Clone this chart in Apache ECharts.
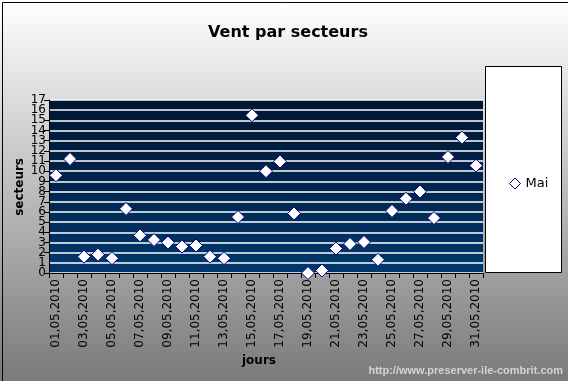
<!DOCTYPE html>
<html>
<head>
<meta charset="utf-8">
<script src="https://cdn.jsdelivr.net/npm/echarts@6/dist/echarts.min.js"></script>
<style>
html,body{margin:0;padding:0;}
#c{width:568px;height:381px;box-sizing:border-box;}
</style>
</head>
<body>
<div id="c"></div>
<script>
const title = 'Vent par secteurs';
const seriesName = 'Mai';
const days = [];
for (let d = 1; d <= 31; d++) days.push((d < 10 ? '0' + d : '' + d) + ',05,2010');
const values = [9.6, 11.2, 1.6, 1.8, 1.45, 6.3, 3.7, 3.25, 3.0, 2.6, 2.7, 1.6, 1.45, 5.5, 15.5,
                10.0, 10.95, 5.85, 0.0, 0.25, 2.4, 2.85, 3.05, 1.3, 6.1, 7.3, 8.0, 5.4, 11.4, 13.3, 10.55];
const yMin = 0, yMax = 17, yStep = 1;

const labelStyle = {fontFamily: 'DejaVu Sans', fontSize: 12, color: '#000', margin: 3};

const chart = echarts.init(document.getElementById('c'));
chart.setOption({
  animation: false,
  backgroundColor: new echarts.graphic.LinearGradient(0, 0, 0, 1, [
    {offset: 0, color: '#ffffff'}, {offset: 1, color: '#7a7a7a'}]),
  title: {
    text: title, left: 283, textAlign: 'center', top: 20,
    textStyle: {fontFamily: 'DejaVu Sans', fontSize: 16, fontWeight: 'bold', color: '#000'}
  },
  grid: {left: 49, top: 100, width: 434, height: 173, show: true, borderWidth: 0,
    backgroundColor: new echarts.graphic.LinearGradient(0, 0, 0, 1, [
      {offset: 0, color: '#001530'}, {offset: 1, color: '#00376c'}])},
  xAxis: {
    type: 'category', data: days, boundaryGap: true,
    axisLine: {lineStyle: {color: '#000', width: 1}},
    axisTick: {show: true, interval: 0, length: 5, lineStyle: {color: '#000'}},
    axisLabel: {interval: 1, rotate: 90, fontFamily: 'DejaVu Sans', fontSize: 12, color: '#000', margin: 6},
    splitLine: {show: false}
  },
  yAxis: [{
    type: 'value', min: yMin, max: yMax, interval: yStep, position: 'left',
    axisLine: {show: true, lineStyle: {color: '#000', width: 1}},
    axisTick: {show: true, length: 5, lineStyle: {color: '#000'}},
    axisLabel: Object.assign({showMinLabel: true, showMaxLabel: true, hideOverlap: false}, labelStyle),
    splitLine: {show: true, lineStyle: {color: '#ffffff', width: 1.5}}
  }, {
    type: 'value', min: yMin, max: yMax, interval: yStep, position: 'left', offset: 0,
    axisLine: {show: false}, axisTick: {show: false}, splitLine: {show: false},
    axisLabel: Object.assign({showMinLabel: false, showMaxLabel: false, hideOverlap: false,
      formatter: function (v) { return (v === yMin + yStep || v === yMax - yStep) ? String(v) : ''; }}, labelStyle)
  }],
  legend: {
    orient: 'vertical', left: 504, top: 172, itemWidth: 11, itemHeight: 11, itemGap: 4,
    data: [{name: seriesName, icon: 'diamond', itemStyle: {color: '#fff', borderColor: '#000080', borderWidth: 1}}],
    textStyle: {fontFamily: 'DejaVu Sans', fontSize: 13, color: '#000'}
  },
  graphic: [
    {type: 'rect', left: 0, top: 0, z: -1, silent: true, shape: {width: 567, height: 380},
      style: {fill: 'none', stroke: '#000', lineWidth: 1}},
    {type: 'rect', left: 485, top: 66, z: 0, shape: {width: 76, height: 206},
      style: {fill: '#fff', stroke: '#000', lineWidth: 1}},
    {type: 'text', left: 14, top: 158, z: 5, rotation: Math.PI / 2,
      style: {text: 'secteurs', font: 'bold 12px "DejaVu Sans"', fill: '#000'}},
    {type: 'text', left: 242, top: 355, z: 5,
      style: {text: 'jours', font: 'bold 12px "DejaVu Sans"', fill: '#000'}},
    {type: 'text', right: 5, top: 365, z: 5,
      style: {text: 'http://www.preserver-ile-combrit.com', font: 'bold 11px "Liberation Sans"', fill: '#d4d4d4'}}
  ],
  series: [{
    name: seriesName, type: 'scatter', data: values, yAxisIndex: 0,
    symbol: 'diamond', symbolSize: 13,
    itemStyle: {color: '#ffffff', borderColor: '#000080', borderWidth: 1, opacity: 1},
    z: 5
  }]
});
</script>
</body>
</html>
